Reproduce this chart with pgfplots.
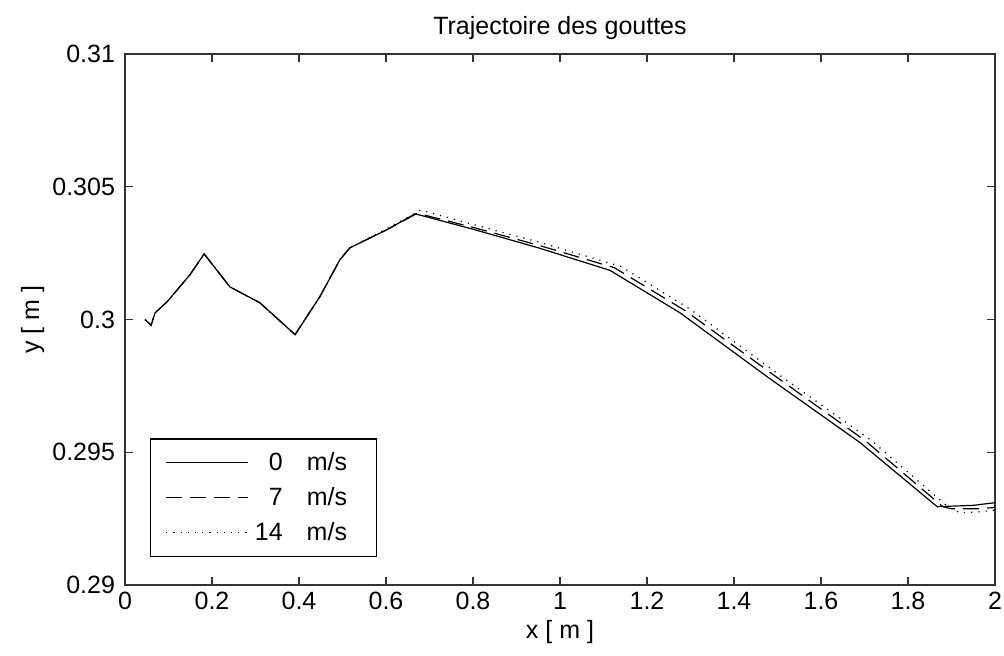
\documentclass[border=0pt]{standalone}
\usepackage{fontspec}
\setmainfont{Liberation Sans}
\usepackage{pgfplots}
\pgfplotsset{compat=1.18}
\begin{document}
\begin{tikzpicture}
\begin{axis}[
  scale only axis,
  width=435pt, height=265.5pt,
  xmin=0, xmax=2, ymin=0.29, ymax=0.31,
  xtick={0,0.2,...,2.01}, ytick={0.29,0.295,0.3,0.305,0.31},
  tick align=inside, major tick length=4pt,
  /pgf/number format/assume math mode=true,
  /pgf/number format/.cd, fixed, precision=3, /pgfplots/.cd,
  tick label style={font=\fontsize{12.5}{14}\selectfont},
  yticklabel style={xshift=-1.5pt},
  label style={font=\fontsize{12.5}{14}\selectfont},
  every axis title shift=0pt,
  title style={font=\fontsize{12.5}{14}\selectfont, at={(axis description cs:0.5,1.049)}, anchor=center},
  xlabel style={at={(axis description cs:0.5,-0.088)}, anchor=center},
  ylabel style={at={(axis description cs:-0.106,0.5)}, anchor=center, rotate=0},
  title={Trajectoire des gouttes},
  xlabel={x [ m ]}, ylabel={y [ m ]},
  axis line style={black!80, line width=0.6pt},
  every tick/.style={black!80, line width=0.6pt},
  legend style={at={(0.0287,0.0527)}, anchor=south west, draw=black, line width=0.6pt,
    font=\fontsize{12.5}{14}\selectfont, row sep=3pt, inner ysep=4.5pt, inner xsep=7.5pt},
  legend cell align=left,
  legend image code/.code={\draw[#1] (0pt,0pt) -- (41pt,0pt);},
]
\addplot[black, line width=0.6pt] coordinates {
(0.046,0.30000)(0.060,0.29978)(0.069,0.30025)(0.097,0.30067)(0.149,0.30168)(0.182,0.30247)
(0.241,0.30123)(0.310,0.30063)(0.391,0.29943)(0.448,0.30086)(0.494,0.30225)(0.517,0.30270)
(0.602,0.30338)(0.667,0.30398)(0.80,0.30340)(0.95,0.30270)(1.115,0.30185)(1.276,0.30025)
(1.48,0.29780)(1.69,0.29536)(1.867,0.29295)(1.95,0.29300)(2.0,0.29310)};
\addlegendentry{\makebox[15pt][r]{0}\hspace{12pt}\makebox[25.5pt][l]{m/s}}
\addplot[black, line width=0.6pt, dash pattern=on 8pt off 4pt] coordinates {
(0.046,0.30000)(0.060,0.29978)(0.069,0.30025)(0.097,0.30067)(0.149,0.30168)(0.182,0.30247)
(0.241,0.30123)(0.310,0.30063)(0.391,0.29943)(0.448,0.30086)(0.494,0.30225)(0.517,0.30270)
(0.602,0.30338)(0.672,0.30400)(0.80,0.30347)(0.95,0.30280)(1.125,0.30195)(1.288,0.30033)
(1.492,0.29790)(1.702,0.29543)(1.880,0.29295)(1.90,0.29287)(1.96,0.29287)(2.0,0.29292)};
\addlegendentry{\makebox[15pt][r]{7}\hspace{12pt}\makebox[25.5pt][l]{m/s}}
\addplot[black, line width=0.6pt, dash pattern=on 0.6pt off 3pt] coordinates {
(0.046,0.30000)(0.060,0.29978)(0.069,0.30025)(0.097,0.30067)(0.149,0.30168)(0.182,0.30247)
(0.241,0.30123)(0.310,0.30063)(0.391,0.29943)(0.448,0.30086)(0.494,0.30225)(0.517,0.30270)
(0.602,0.30342)(0.680,0.30412)(0.80,0.30358)(0.95,0.30292)(1.14,0.30200)(1.30,0.30038)
(1.505,0.29790)(1.715,0.29545)(1.893,0.29293)(1.92,0.29272)(1.96,0.29275)(2.0,0.29282)};
\addlegendentry{\makebox[15pt][r]{14}\hspace{12pt}\makebox[25.5pt][l]{m/s}}
\end{axis}
\pgfresetboundingbox
\useasboundingbox ([shift={(-62.5pt,-35.5pt)}]current axis.south west) rectangle ([shift={(4.5pt,27pt)}]current axis.north east);
\end{tikzpicture}
\end{document}
